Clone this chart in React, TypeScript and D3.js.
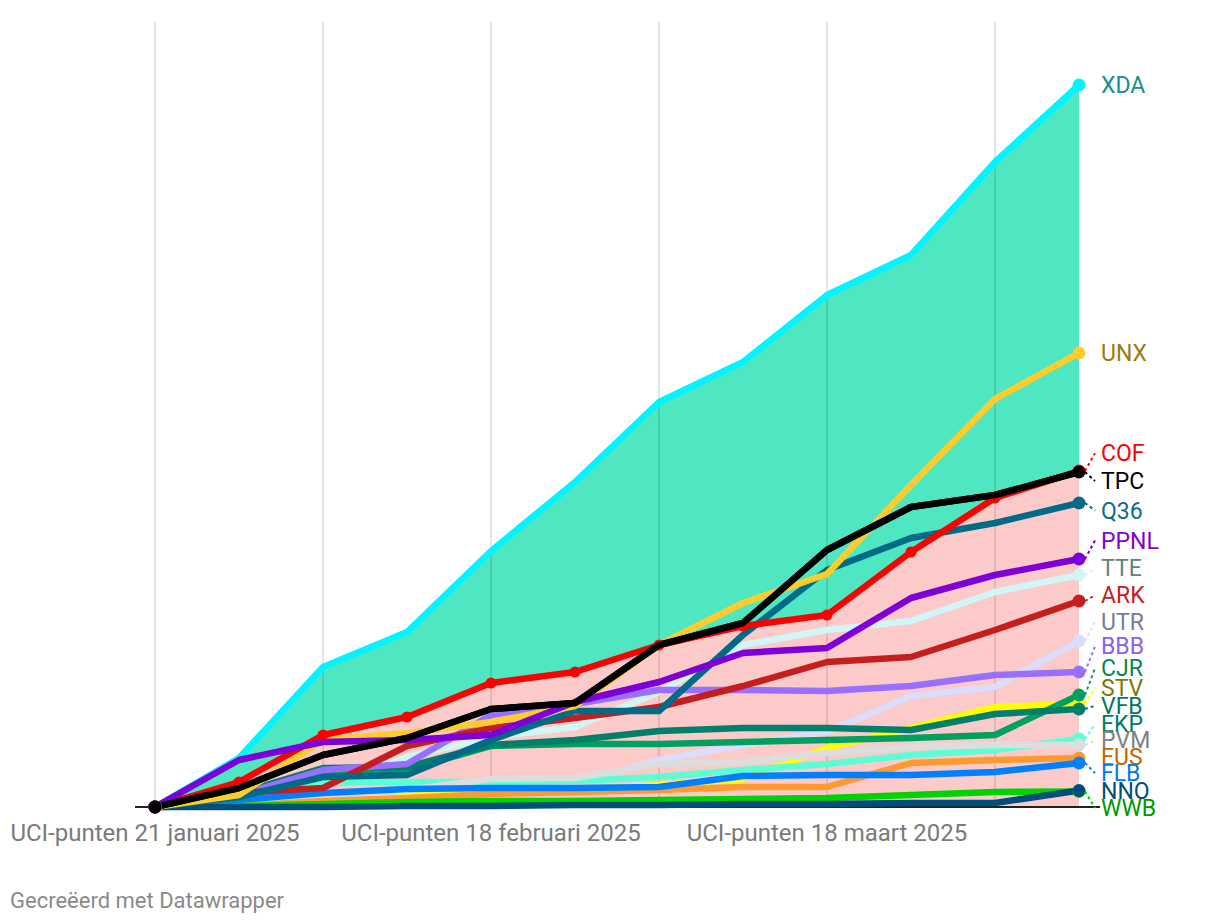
import React from "react";
import * as d3 from "d3";

// weekly snapshots
const weeks = [
  "21 januari 2025",
  "28 januari 2025",
  "4 februari 2025",
  "11 februari 2025",
  "18 februari 2025",
  "25 februari 2025",
  "4 maart 2025",
  "11 maart 2025",
  "18 maart 2025",
  "25 maart 2025",
  "1 april 2025",
  "8 april 2025",
].map((d) => "UCI-punten " + d);
const tickWeeks = [weeks[0], weeks[4], weeks[8]];

const XDA = [0, 196, 560, 700, 1024, 1300, 1620, 1780, 2048, 2208, 2580, 2888];
const UNX = [0, 48, 268, 296, 340, 404, 648, 816, 932, 1288, 1632, 1816];
const COF = [0, 100, 288, 360, 496, 540, 648, 724, 768, 1020, 1236, 1344];
const TPC = [0, 76, 208, 276, 392, 416, 648, 736, 1028, 1200, 1248, 1340];
const Q36 = [0, 40, 120, 128, 268, 384, 384, 688, 948, 1076, 1136, 1216];
const PPNL = [0, 188, 260, 268, 288, 420, 500, 616, 636, 836, 928, 992];
const TTE = [0, 28, 88, 200, 280, 320, 460, 648, 708, 744, 860, 928];
const ARK = [0, 56, 76, 244, 316, 356, 400, 484, 580, 600, 708, 824];
const UTR = [0, 8, 16, 28, 48, 96, 188, 248, 300, 444, 480, 664];
const BBB = [0, 48, 148, 172, 368, 412, 468, 468, 464, 484, 528, 540];
const CJR = [0, 44, 144, 148, 244, 252, 252, 260, 268, 276, 288, 448];
const STV = [0, 8, 28, 48, 68, 68, 88, 112, 236, 316, 400, 412];
const VFB = [0, 56, 156, 160, 248, 268, 304, 316, 316, 308, 372, 392];
const EKP = [0, 28, 96, 100, 100, 104, 120, 148, 172, 208, 228, 272];
const PVM = [0, 8, 28, 68, 112, 116, 172, 180, 216, 240, 248, 248];
const EUS = [0, 4, 24, 36, 52, 60, 68, 80, 80, 176, 188, 196];
const FLB = [0, 28, 56, 72, 76, 76, 80, 124, 128, 128, 140, 176];
const WWB = [0, 4, 12, 20, 24, 24, 28, 32, 36, 48, 60, 62];
const NNO = [0, 0, 0, 4, 4, 8, 8, 12, 12, 16, 16, 66];

// [code, values, line colour, label colour], bottom to top drawing order
const teams: [string, number[], string, string][] = [
  ["UTR", UTR, "#dcdcfc", "#7a7a9c"],
  ["TTE", TTE, "#d2f6f6", "#5f8282"],
  ["STV", STV, "#ffff00", "#7a7a00"],
  ["EKP", EKP, "#5cffd4", "#007a66"],
  ["PVM", PVM, "#dddddd", "#808080"],
  ["EUS", EUS, "#ff9a30", "#c86400"],
  ["FLB", FLB, "#0080ff", "#0078f0"],
  ["WWB", WWB, "#00d400", "#009900"],
  ["NNO", NNO, "#004f7a", "#004d75"],
  ["CJR", CJR, "#00a060", "#008a50"],
  ["VFB", VFB, "#00806a", "#007a60"],
  ["BBB", BBB, "#9870ff", "#8a60f0"],
  ["ARK", ARK, "#c41e1e", "#c41e1e"],
  ["Q36", Q36, "#006b87", "#0a6e8c"],
  ["UNX", UNX, "#ffcc2e", "#9c7a12"],
  ["XDA", XDA, "#00f5ff", "#14908f"],
  ["COF", COF, "#ff0000", "#ff0000"],
  ["PPNL", PPNL, "#7d00d9", "#8000d8"],
  ["TPC", TPC, "#000000", "#000000"],
];

const W = 1220;
const H = 924;
const left = 155;
const right = 1079;
const top = 22;
const bottom = 807;
const font = "Roboto, 'Noto Sans', sans-serif";

// soft label relaxation: neighbours push apart, a wall at the bottom,
// a weak spring back towards the line end
function relax(ys: number[], gap: number, maxY: number): number[] {
  const order = d3.range(ys.length).sort((a, b) => ys[a] - ys[b]);
  const p = order.map((i) => ys[i]);
  const t = p.slice();
  for (let it = 0; it < 120; it++) {
    for (let k = 0; k < p.length - 1; k++) {
      const diff = p[k + 1] - p[k];
      if (diff < gap) {
        const d = ((gap - diff) / 2) * 0.5;
        p[k] -= d;
        p[k + 1] += d;
      }
    }
    for (let k = 0; k < p.length; k++) {
      p[k] += (t[k] - p[k]) * 0.03;
      if (p[k] > maxY) p[k] = maxY;
    }
    for (let k = 1; k < p.length; k++) if (p[k] < p[k - 1] + 12) p[k] = p[k - 1] + 12;
  }
  const out = new Array(ys.length);
  order.forEach((i, k) => (out[i] = p[k]));
  return out;
}

export default function App() {
  const x = d3.scalePoint<string>().domain(weeks).range([left, right]);
  const y = d3.scaleLinear().domain([0, 3140]).range([bottom, top]);

  const line = d3
    .line<number>()
    .x((_, i) => x(weeks[i])!)
    .y((d) => y(d));

  const tealArea = d3
    .area<number>()
    .x((_, i) => x(weeks[i])!)
    .y0((_, i) => y(COF[i]))
    .y1((d) => y(d));

  const pinkArea = d3
    .area<number>()
    .x((_, i) => x(weeks[i])!)
    .y0(y(0))
    .y1((d) => y(d));

  const last = weeks.length - 1;
  const endYs = teams.map((t) => y(t[1][last]));
  const labelYs = relax(endYs, 30, bottom + 1);
  const xEnd = x(weeks[last])!;

  return (
    <svg
      width={W}
      height={H}
      style={{ position: "absolute", left: 0, top: 0, background: "#fff" }}
      fontFamily={font}
    >
      <path d={tealArea(XDA)!} fill="#4fe7c1" />
      <path d={pinkArea(COF)!} fill="#fdcaca" />

      {weeks
        .filter((_, i) => i % 2 === 0)
        .map((w) => (
          <line
            key={w}
            x1={x(w)}
            x2={x(w)}
            y1={top}
            y2={bottom}
            stroke="#000"
            strokeOpacity={0.1}
            strokeWidth={2}
          />
        ))}

      <line x1={135} x2={1100} y1={bottom} y2={bottom} stroke="#222" strokeWidth={2} />

      {teams.map(([code, vals, color]) => (
        <path
          key={code}
          d={line(vals)!}
          fill="none"
          stroke={color}
          strokeWidth={6.5}
          strokeLinejoin="round"
          strokeLinecap="round"
        />
      ))}

      {COF.map((v, i) => (
        <circle key={"cof" + i} cx={x(weeks[i])} cy={y(v)} r={5.5} fill="#ff0000" />
      ))}
      <path d={line(TPC)!} fill="none" stroke="#000" strokeWidth={6.5} strokeLinejoin="round" />

      {teams.map(([code, vals, color]) => (
        <g key={"dots" + code}>
          <circle cx={x(weeks[0])} cy={y(vals[0])} r={6.5} fill={color} />
          <circle cx={xEnd} cy={y(vals[last])} r={6.5} fill={color} />
        </g>
      ))}

      {teams.map(([code, , color, labelColor], k) => {
        const ly = labelYs[k];
        const ey = endYs[k];
        return (
          <g key={"lab" + code}>
            {Math.abs(ly - ey) > 3 && (
              <line
                x1={xEnd + 6}
                y1={ey}
                x2={xEnd + 16}
                y2={ly}
                stroke={color}
                strokeWidth={2}
                strokeDasharray="3,3"
              />
            )}
            <text
              x={xEnd + 22}
              y={ly}
              dy="0.35em"
              fontSize={23}
              fill={labelColor}
            >
              {code}
            </text>
          </g>
        );
      })}

      {tickWeeks.map((w) => (
        <text
          key={w}
          x={x(w)}
          y={bottom + 34}
          textAnchor="middle"
          fontSize={24}
          fill="#7a7a7a"
        >
          {w}
        </text>
      ))}

      <text x={10} y={908} fontSize={22} fill="#8a8a8a">
        Gecreëerd met Datawrapper
      </text>
    </svg>
  );
}
